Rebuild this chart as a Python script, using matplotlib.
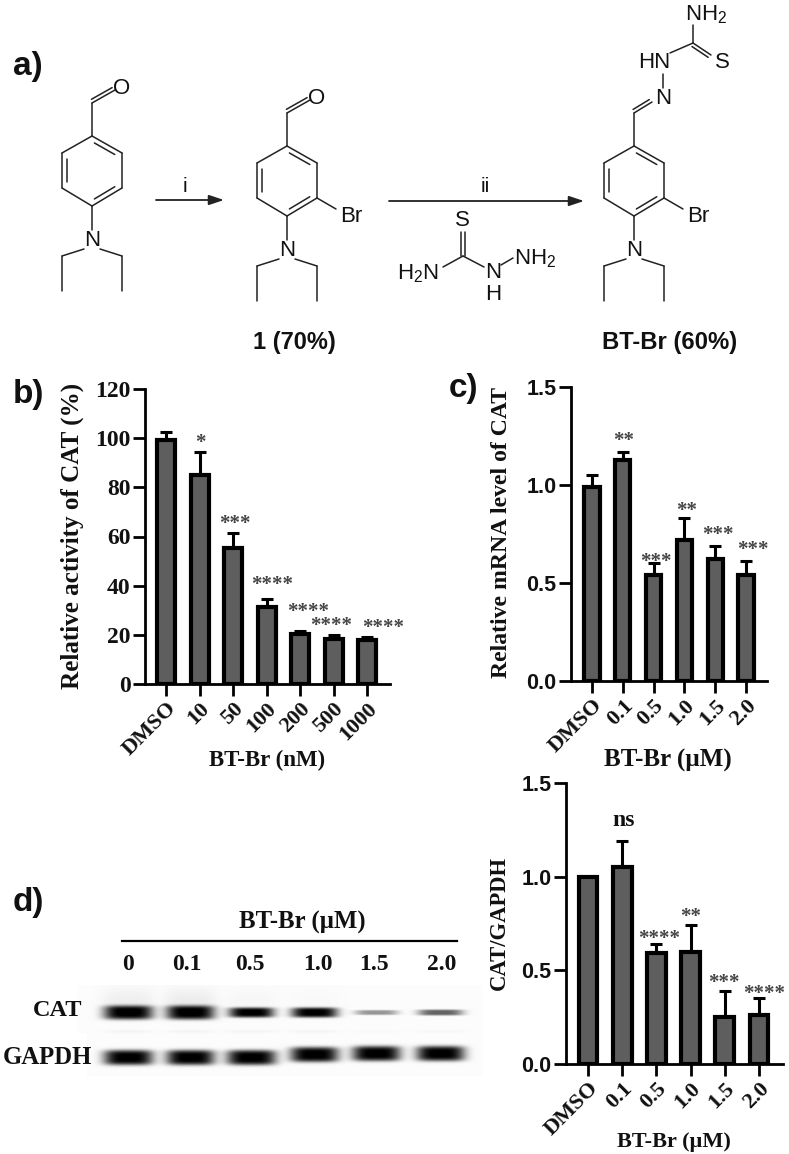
import numpy as np
import matplotlib
matplotlib.use('Agg')
import matplotlib.pyplot as plt

W, H = 789, 1154
SERIF = 'Liberation Serif'
SANS = 'Liberation Sans'
BAR = '#5e5e5e'
INK = '#111111'
plt.rcParams['mathtext.fontset'] = 'custom'
plt.rcParams['mathtext.rm'] = SANS

# panel b
b_labels = ['DMSO', '10', '50', '100', '200', '500', '1000']
b_values = [99.2, 85.2, 55.2, 31.2, 20.2, 18.2, 17.7]
b_err = [3.3, 9.3, 6.3, 3.3, 1.3, 1.8, 1.6]
b_ticks = [0, 20, 40, 60, 80, 100, 120]

# panel c
c_labels = ['DMSO', '0.1', '0.5', '1.0', '1.5', '2.0']
c_values = [0.99, 1.13, 0.54, 0.72, 0.62, 0.54]
c_err = [0.06, 0.04, 0.06, 0.11, 0.07, 0.07]

# panel d chart
d_labels = ['DMSO', '0.1', '0.5', '1.0', '1.5', '2.0']
d_values = [1.00, 1.05, 0.59, 0.60, 0.25, 0.26]
d_err = [0, 0.14, 0.05, 0.14, 0.14, 0.09]
frac_ticks = [0.0, 0.5, 1.0, 1.5]

# western blot bands: centre x, width, height, darkness
lane_x = [128, 190, 251, 314, 376, 440]
cat_w = [49, 48, 45, 46, 43, 45]
cat_h = [14, 14, 10, 10, 5, 6]
cat_dark = [1.0, 1.0, 1.0, 1.0, 0.4, 0.6]
cat_halo = [0.05, 0.06, 0.02, 0.01, 0.0, 0.0]
gapdh_w = [49, 48, 49, 48, 48, 48]
gapdh_y = [1057, 1057, 1057, 1054, 1053, 1053]
lane_labels = ['0', '0.1', '0.5', '1.0', '1.5', '2.0']
lane_label_x = [128, 187, 250, 318, 374, 442]

fig = plt.figure(figsize=(W / 100, H / 100), dpi=100)
ov = fig.add_axes([0, 0, 1, 1], zorder=5)
ov.patch.set_alpha(0)


def bar_panel(left, top, right, bottom, first, step, labels, values, err, ymax, yticks, fmt, tickfont, ticksize):
    ax = fig.add_axes([left / W, 1 - bottom / H, (right - left) / W, (bottom - top) / H])
    x = np.arange(len(values))
    ax.bar(x, values, width=(step - 15.5) / step, color=BAR, edgecolor='black', linewidth=3.0, zorder=3)
    ax.errorbar(x, values, yerr=[np.zeros(len(err)), err], fmt='none', ecolor='black',
                elinewidth=2.2, capsize=4, capthick=2.2, zorder=2)
    ax.set_xlim((left - first) / step, (right - first) / step)
    ax.set_ylim(0, ymax)
    ax.set_yticks(yticks)
    ax.set_yticklabels([fmt % t for t in yticks], family=tickfont, fontweight='bold', fontsize=ticksize, color=INK)
    ax.set_xticks(x)
    ax.set_xticklabels(labels, rotation=45, ha='right', rotation_mode='anchor',
                       family=SERIF, fontweight='bold', fontsize=16, color=INK)
    ax.tick_params(axis='both', length=8.5, width=2.0, pad=2)
    for s in ['top', 'right']:
        ax.spines[s].set_visible(False)
    for s in ['left', 'bottom']:
        ax.spines[s].set_linewidth(2.0)
    ax.patch.set_alpha(0)
    return ax


bar_panel(145, 389, 390, 684, 166, 33.5, b_labels, b_values, b_err, 120, b_ticks, '%d', SERIF, 17)
bar_panel(571, 387, 767, 681, 592, 30.8, c_labels, c_values, c_err, 1.5, frac_ticks, '%.1f', SANS, 15.5)
bar_panel(566, 783, 783, 1064, 588, 34.2, d_labels, d_values, d_err, 1.5, frac_ticks, '%.1f', SANS, 15.5)


def txt(x, y, s, size=15, fam=SERIF, weight='bold', **kw):
    ov.text(x, y, s, fontsize=size, family=fam, fontweight=weight, ha=kw.pop('ha', 'center'),
            va=kw.pop('va', 'center'), color=kw.pop('color', INK), **kw)


# panel letters
for x, y, s in [(28, 66, 'a)'), (28, 395, 'b)'), (464, 388, 'c)'), (28, 903, 'd)')]:
    txt(x, y, s, size=24, fam=SANS)

# axis titles
txt(72, 536, 'Relative activity of CAT (%)', size=18.1, rotation=90)
txt(502, 533, 'Relative mRNA level of CAT', size=17.1, rotation=90)
txt(499, 923, 'CAT/GAPDH', size=16.3, rotation=90)
txt(267, 760, 'BT-Br (nM)', size=16.5)
txt(668, 760, 'BT-Br (\u00b5M)', size=18)
txt(674, 1142, 'BT-Br (\u00b5M)', size=16)

# significance marks
stars = [(200, 439, '*'), (235, 520, '***'), (272, 581, '****'), (308, 608, '****'),
         (331, 622, '****'), (383, 624, '****'),
         (624, 437, '**'), (656, 558, '***'), (687, 507, '**'), (718, 531, '***'), (753, 546, '***'),
         (659, 935, '****'), (691, 913, '**'), (724, 979, '***'), (764, 990, '****')]
for x, y, s in stars:
    ov.text(x, y + 4, s, fontsize=15, family=SERIF, fontweight='bold', color='#444444', ha='center', va='center')
txt(624, 821, 'ns', size=17)

# blot
yy, xx = np.mgrid[985:1080, 78:482]
img = np.full(xx.shape, 0.985)
img[(xx < 87) & (yy >= 1033)] = 1.0
img[yy >= 1076] = 1.0
for i, cx in enumerate(lane_x):
    halo = cat_halo[i] * np.exp(-(((xx - cx) / 26.0) ** 4 + ((yy - 1000) / 12.0) ** 2))
    strip = 0.03 * cat_dark[i] * np.exp(-(((xx - cx) / 24.0) ** 4 + ((yy - 1031) / 1.5) ** 2))
    band = cat_dark[i] * np.exp(-(((xx - cx) / (cat_w[i] / 2.0)) ** 4 + ((yy - 1012) / (cat_h[i] / 2.0)) ** 4))
    band2 = np.exp(-(((xx - cx) / (gapdh_w[i] / 2.0)) ** 4 + ((yy - gapdh_y[i]) / 7.5) ** 4))
    img = img - halo - strip - band - band2
ov.imshow(np.clip(img, 0, 1), cmap='gray', vmin=0, vmax=1, extent=(78, 482, 1080, 985),
          aspect='auto', interpolation='bilinear', zorder=1)
ov.plot([122, 457], [941, 941], color='black', lw=1.6)
txt(302, 922, 'BT-Br (\u00b5M)', size=17.8)
for x, s in zip(lane_label_x, lane_labels):
    txt(x, 965, s, size=17)
txt(58, 1010, 'CAT', size=17.5)
txt(47, 1058, 'GAPDH', size=17.8)


# chemistry scheme, pixel coordinates
def bond(a, b, lw=1.1):
    ov.plot([a[0], b[0]], [a[1], b[1]], color='#222222', lw=lw, solid_capstyle='round')


def double(a, b, off=4.0, shrink=0.14):
    a, b = np.array(a, float), np.array(b, float)
    d = b - a
    n = np.array([-d[1], d[0]]) / np.hypot(*d) * off
    bond(a + n + d * shrink, b + n - d * shrink)


def aryl(cx, top, br=False):
    # ring corners clockwise from the top
    p = [(cx, top), (cx + 30, top + 17), (cx + 30, top + 52), (cx, top + 70), (cx - 30, top + 52), (cx - 30, top + 17)]
    c = (cx, top + 35)
    for i in range(6):
        bond(p[i], p[(i + 1) % 6])
    for i in [0, 2, 4]:
        a, b = np.array(p[i], float), np.array(p[(i + 1) % 6], float)
        m = np.array(c, float)
        bond(a + (m - a) * 0.16 + (b - a) * 0.08, b + (m - b) * 0.16 - (b - a) * 0.08)
    bond(p[0], (cx, top - 33))
    ny = top + 105
    bond(p[3], (cx, ny - 11))
    txt(cx, ny, 'N', size=16, fam=SANS, weight='normal')
    bond((cx - 8, ny + 8), (cx - 30, ny + 15))
    bond((cx - 30, ny + 15), (cx - 30, ny + 50))
    bond((cx + 8, ny + 8), (cx + 30, ny + 15))
    bond((cx + 30, ny + 15), (cx + 30, ny + 50))
    if br:
        bond(p[2], (cx + 49, top + 63))
        txt(cx + 64, top + 70, 'Br', size=16, fam=SANS, weight='normal')
    return (cx, top - 33)


def aldehyde(start):
    end = (start[0] + 23, start[1] - 13)
    bond(start, end)
    double(start, end, off=-3.5, shrink=0.05)
    txt(start[0] + 30, start[1] - 14, 'O', size=16, fam=SANS, weight='normal')


def label(x, y, s, size=16):
    txt(x, y, s, size=size, fam=SANS, weight='normal')


aldehyde(aryl(92, 136))
aldehyde(aryl(287, 146, br=True))
s3 = aryl(634, 146, br=True)
bond(s3, (s3[0] + 18, s3[1] - 11))
double(s3, (s3[0] + 18, s3[1] - 11), off=-3.5, shrink=0.05)
label(663, 98, 'N')
bond((663, 88), (663, 74))
label(654, 63, 'HN')
bond((670, 53), (693, 43))
bond((693, 43), (693, 25))
bond((693, 43), (711, 55))
double((693, 43), (711, 55), off=3.5, shrink=0.05)
label(722, 63, 'S')
label(706, 15, r'$\mathrm{NH_2}$')

# arrows
for x0, x1, y, s, lx, ly in [(156, 224, 200, 'i', 185, 186), (389, 584, 201, 'ii', 485, 187)]:
    ov.annotate('', xy=(x1, y), xytext=(x0, y),
                arrowprops=dict(arrowstyle='-|>,head_length=0.9,head_width=0.3', color='#222222', lw=1.3,
                                shrinkA=0, shrinkB=0))
    label(lx, ly, s, size=15)

# thiosemicarbazide
label(462, 221, 'S')
bond((461, 232), (461, 256))
bond((465, 232), (465, 256))
bond((463, 256), (443, 267))
bond((463, 256), (484, 267))
label(418, 274, r'$\mathrm{H_2N}$')
label(493, 272, 'N')
label(493, 295, 'H')
bond((501, 265), (513, 258))
label(535, 259, r'$\mathrm{NH_2}$')

txt(294, 342, '1 (70%)', size=17, fam=SANS)
txt(670, 342, 'BT-Br (60%)', size=17.2, fam=SANS)

ov.set_xlim(0, W)
ov.set_ylim(H, 0)
ov.axis('off')

fig.savefig('out.png', dpi=100)
